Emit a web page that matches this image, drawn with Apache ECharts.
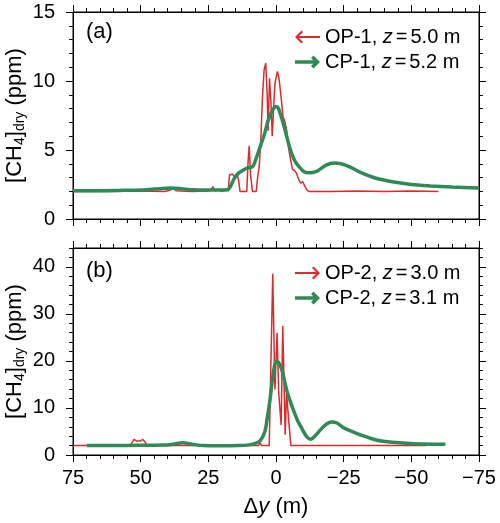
<!DOCTYPE html>
<html>
<head>
<meta charset="utf-8">
<script src="https://cdn.jsdelivr.net/npm/echarts@6.0.0/dist/echarts.min.js"></script>
<style>
  html, body { margin: 0; padding: 0; background: #fff; }
  #chart { width: 500px; height: 523px; }
</style>
</head>
<body>
<div id="chart"></div>
<script>
// [Δy (m), [CH4]dry (ppm)]
const op1 = [[75,2.0],[62,2.0],[50,2.02],[41,2.0],[39,2.1],[38,2.3],[37,2.05],[31,2.0],[25,2.02],[24,2.15],[23.3,2.35],[22.6,2.05],[21.5,2.15],[20,2.0],[18.5,2.1],[17.6,2.05],[17.2,3.2],[16,3.25],[15.2,3.0],[14.5,3.3],[13.8,2.8],[13.3,2.0],[10.8,2.0],[10.3,4.2],[9.9,5.3],[9.4,3.2],[8.7,2.0],[7.3,2.0],[6.8,3.0],[6.2,3.8],[5.6,5.8],[5.0,8.8],[4.4,10.8],[3.8,11.3],[3.3,9.2],[2.9,6.4],[2.4,10.2],[1.9,8.6],[1.4,6.0],[0.9,8.0],[0.4,9.8],[-0.5,10.7],[-1.1,10.2],[-1.8,9.0],[-2.6,7.4],[-3.2,7.1],[-3.9,6.5],[-4.6,5.2],[-5.3,4.4],[-6.1,3.6],[-6.9,3.5],[-7.6,3.3],[-8.3,2.9],[-9.1,2.6],[-9.9,2.7],[-10.6,2.4],[-11.4,2.1],[-12.2,2.0],[-20,2.0],[-30,2.02],[-40,2.0],[-50,2.02],[-60,2.0]];
const cp1 = [[75,2.05],[65,2.05],[55,2.08],[48,2.12],[43,2.2],[39,2.25],[35,2.2],[31,2.12],[26,2.1],[21,2.1],[18,2.12],[17,2.3],[15.5,2.9],[14,3.3],[12.5,3.5],[10.5,3.7],[8.6,3.8],[7.5,4.3],[5.9,5.2],[4.2,6.2],[2.8,7.2],[1.2,7.9],[0,8.15],[-0.8,8.05],[-1.8,7.5],[-3,6.7],[-4.2,5.8],[-5.5,4.9],[-7,4.2],[-8.9,3.7],[-10.5,3.4],[-12,3.35],[-15,3.45],[-18.5,3.9],[-21.5,4.05],[-24,4.0],[-27,3.8],[-31,3.4],[-37,2.95],[-43,2.7],[-50,2.5],[-57,2.4],[-65,2.32],[-75,2.25]];
const op2 = [[75,2.0],[60,2.0],[54,2.0],[53,2.8],[52.5,3.3],[51.6,3.0],[51.2,2.7],[50,3.0],[49.2,3.3],[48.3,2.7],[47.6,2.0],[40,2.0],[30,2.0],[20,2.0],[10,2.0],[6.5,2.0],[5.9,2.6],[5.3,2.0],[2.5,2.0],[1.2,38.5],[0.4,13.9],[-0.4,26.0],[-1.0,13.2],[-1.9,6.4],[-2.5,27.4],[-3.4,4.3],[-3.9,13.2],[-4.6,8.0],[-5.5,2.0],[-15,2.0],[-30,2.0],[-45,2.0],[-55.7,2.0]];
const cp2 = [[69.9,2.0],[60,2.0],[50,2.05],[42,2.1],[38,2.3],[34.5,2.6],[31,2.3],[27,2.0],[20,1.95],[14,2.0],[10,2.15],[8,2.4],[5.9,3.0],[4.1,5.0],[3.2,8.0],[2.2,11.8],[1.0,17.5],[0,19.9],[-0.8,19.8],[-2.1,18.2],[-3,16.2],[-3.9,13.9],[-5.2,11.5],[-6.4,9.6],[-8,7.3],[-9.5,5.7],[-11.3,3.9],[-12.8,3.35],[-14.5,4.1],[-16.5,5.4],[-18.7,6.6],[-20.6,7.0],[-22.5,6.8],[-25,5.8],[-28,5.0],[-31,4.3],[-37,3.2],[-43,2.7],[-51,2.4],[-62.6,2.3]];

const legendLabels = {
  'OP-1': '{n|OP-1, }{i|z}{e|=}{n|5.0 m}',
  'CP-1': '{n|CP-1, }{i|z}{e|=}{n|5.2 m}',
  'OP-2': '{n|OP-2, }{i|z}{e|=}{n|3.0 m}',
  'CP-2': '{n|CP-2, }{i|z}{e|=}{n|3.1 m}'
};
const panelLabels = ['(a)', '(b)'];

const RED = '#dc2b2b';
const GREEN = '#2e8b57';
const FONT = 'Arial, "Liberation Sans", sans-serif';

// arrow icons (25 x 14)
const ARROW_L_THIN = 'path://M0,7 L6.5,0.5 L8,2 L4,6 L25,6 L25,8 L4,8 L8,12 L6.5,13.5 Z';
const ARROW_R_THIN = 'path://M25,7 L18.5,0.5 L17,2 L21,6 L0,6 L0,8 L21,8 L17,12 L18.5,13.5 Z';
const ARROW_R_THICK = 'path://M25,7 L18.5,0.5 L16,3 L18.25,5.2 L0,5.2 L0,8.8 L18.25,8.8 L16,11 L18.5,13.5 Z';

const chart = echarts.init(document.getElementById('chart'));

const black = { color: '#000', width: 1 };
const richTxt = {
  n: { fontSize: 20, lineHeight: 20, color: '#000', fontFamily: FONT },
  i: { fontSize: 20, lineHeight: 20, color: '#000', fontFamily: FONT, fontStyle: 'italic' },
  e: { fontSize: 20, lineHeight: 20, color: '#000', fontFamily: FONT, padding: [0, 3, 0, 3] }
};

function xAxisOf(grid, pos, labels) {
  return {
    type: 'value', gridIndex: grid, position: pos,
    min: -75, max: 75, interval: 25, inverse: true,
    axisLine: { show: true, onZero: false, lineStyle: black },
    axisTick: { show: true, length: 7, lineStyle: black },
    minorTick: { show: true, splitNumber: 5, length: 4, lineStyle: black },
    splitLine: { show: false },
    axisLabel: {
      show: labels, margin: 13, fontSize: 20, color: '#000', fontFamily: FONT,
      showMinLabel: true, showMaxLabel: true,
      formatter: v => v < 0 ? '\u2212' + (-v) : String(v)
    },
    name: labels ? '{n|\u0394}{i|y}{n| (m)}' : '',
    nameLocation: 'middle', nameGap: 41, nameMoveOverlap: false,
    nameTextStyle: {
      rich: {
        n: { fontSize: 22, color: '#000', fontFamily: FONT },
        i: { fontSize: 22, color: '#000', fontFamily: FONT, fontStyle: 'italic' }
      }
    }
  };
}

const yName = '{n|[CH}{s|4}{n|]}{s|dry}{n| (ppm)}';
const yNameRich = {
  n: { fontSize: 22, lineHeight: 24, fill: '#000', color: '#000', fontFamily: FONT },
  s: { fontSize: 14, lineHeight: 14, fill: '#000', color: '#000', fontFamily: FONT, verticalAlign: 'bottom' }
};

function yAxisOf(grid, pos, max, interval, tickLen, opts) {
  const a = {
    type: 'value', gridIndex: grid, position: pos,
    min: 0, max: max, interval: interval,
    axisLine: { show: opts.line !== false, onZero: false, lineStyle: black },
    axisTick: { show: true, length: tickLen, lineStyle: black },
    minorTick: { show: !!opts.minor, splitNumber: 5, length: 4, lineStyle: black },
    splitLine: { show: false },
    axisLabel: {
      show: !!opts.labels, margin: 18,
      fontSize: 20, color: '#000', fontFamily: FONT,
      formatter: v => (v % 10 === 0 || max === 15) ? String(v) : ''
    }
  };
  if (opts.ticksAt) a.axisTick.customValues = opts.ticksAt;
  return a;
}

const option = {
  animation: false,
  backgroundColor: '#fff',
  textStyle: { fontFamily: FONT },
  title: panelLabels.map((t, k) => ({
    text: t, left: 86, top: k === 0 ? 21 : 260, padding: 0,
    textStyle: { fontSize: 22, fontWeight: 'normal', color: '#000', fontFamily: FONT }
  })),
  graphic: [115.5, 351.5].map(cy => ({
    type: 'text', x: 15, y: cy, rotation: Math.PI / 2,
    style: { text: yName, rich: yNameRich, align: 'center', verticalAlign: 'middle' }
  })),
  grid: [
    { left: 73, top: 12, width: 406, height: 207, outerBoundsMode: 'none', show: true, borderColor: '#000', borderWidth: 1 },
    { left: 73, top: 248, width: 406, height: 207, outerBoundsMode: 'none', show: true, borderColor: '#000', borderWidth: 1 }
  ],
  legend: [
    {
      orient: 'vertical', left: 295, top: 27, padding: 0, itemGap: 5,
      itemWidth: 25, itemHeight: 14,
      formatter: n => legendLabels[n],
      textStyle: { rich: richTxt },
      data: [
        { name: 'OP-1', icon: ARROW_L_THIN, itemStyle: { color: RED, borderWidth: 0 } },
        { name: 'CP-1', icon: ARROW_R_THICK, itemStyle: { color: GREEN, borderWidth: 0 } }
      ]
    },
    {
      orient: 'vertical', left: 295, top: 263, padding: 0, itemGap: 5,
      itemWidth: 25, itemHeight: 14,
      formatter: n => legendLabels[n],
      textStyle: { rich: richTxt },
      data: [
        { name: 'OP-2', icon: ARROW_R_THIN, itemStyle: { color: RED, borderWidth: 0 } },
        { name: 'CP-2', icon: ARROW_R_THICK, itemStyle: { color: GREEN, borderWidth: 0 } }
      ]
    }
  ],
  xAxis: [
    xAxisOf(0, 'bottom', false),
    xAxisOf(0, 'top', false),
    xAxisOf(1, 'bottom', true),
    xAxisOf(1, 'top', false)
  ],
  yAxis: [
    yAxisOf(0, 'left', 15, 5, 7, { labels: true, minor: true }),
    yAxisOf(0, 'right', 15, 5, 7, { minor: true }),
    yAxisOf(1, 'left', 44, 2, 4, { labels: true }),
    yAxisOf(1, 'left', 44, 10, 7, { line: false, ticksAt: [0, 10, 20, 30, 40] }),
    yAxisOf(1, 'right', 44, 2, 4, {}),
    yAxisOf(1, 'right', 44, 10, 7, { line: false, ticksAt: [0, 10, 20, 30, 40] })
  ],
  series: [
    { name: 'OP-1', type: 'line', xAxisIndex: 0, yAxisIndex: 0, data: op1, showSymbol: false,
      lineStyle: { color: RED, width: 1.5 }, itemStyle: { color: RED }, z: 2 },
    { name: 'CP-1', type: 'line', xAxisIndex: 0, yAxisIndex: 0, data: cp1, showSymbol: false, smooth: 0.3,
      lineStyle: { color: GREEN, width: 3.5 }, itemStyle: { color: GREEN }, z: 3 },
    { name: 'OP-2', type: 'line', xAxisIndex: 2, yAxisIndex: 2, data: op2, showSymbol: false,
      lineStyle: { color: RED, width: 1.5 }, itemStyle: { color: RED }, z: 2 },
    { name: 'CP-2', type: 'line', xAxisIndex: 2, yAxisIndex: 2, data: cp2, showSymbol: false, smooth: 0.3,
      lineStyle: { color: GREEN, width: 3.5 }, itemStyle: { color: GREEN }, z: 3 }
  ]
};

chart.setOption(option);
window.addEventListener('resize', function () {
  chart.resize();
});
</script>
</body>
</html>
